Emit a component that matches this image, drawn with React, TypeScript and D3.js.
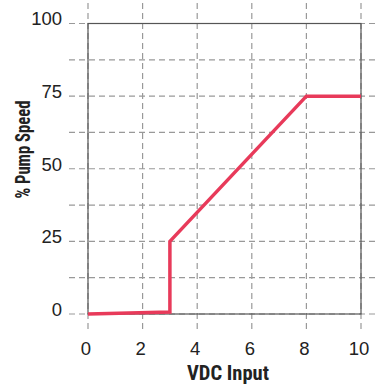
import React from "react";
import * as d3 from "d3";

const voltage = [0, 3, 3, 8, 10];
const pumpSpeed = [0, 0.7, 25, 75, 75];
const xTicks = [0, 2, 4, 6, 8, 10];
const yTicks = [0, 25, 50, 75, 100];
const yGrid = [0, 12.5, 25, 37.5, 50, 62.5, 75, 87.5, 100];

const W = 375;
const H = 385;
const narrow = "'Liberation Sans Narrow', 'Roboto Condensed', 'DejaVu Sans Condensed', 'Arial Narrow', sans-serif";
const regular = "'Liberation Sans', Arial, sans-serif";

export default function App() {
  const x = d3.scaleLinear().domain([0, 10]).range([88, 361]);
  const y = d3.scaleLinear().domain([0, 100]).range([314, 23.5]);
  const pts = voltage.map((v, i) => [v, pumpSpeed[i]] as [number, number]);
  const line = d3
    .line<[number, number]>()
    .x((d) => x(d[0]))
    .y((d) => y(d[1]));

  return (
    <svg width={W} height={H} style={{ position: "absolute", left: 0, top: 0, background: "#fff" }}>
      <g stroke="#999" strokeWidth={1.2} strokeDasharray="6,4" fill="none">
        {xTicks.map((t) => (
          <line key={"gx" + t} x1={x(t)} x2={x(t)} y1={3} y2={332} />
        ))}
        {yGrid.map((t) => (
          <line key={"gy" + t} x1={69} x2={375} y1={y(t)} y2={y(t)} />
        ))}
      </g>
      <rect x={x(0)} y={y(100)} width={x(10) - x(0)} height={y(0) - y(100)} fill="none" stroke="#555" strokeWidth={1.2} />
      <path d={line(pts) || ""} fill="none" stroke="#e83a5a" strokeWidth={3.5} strokeLinejoin="miter" />
      <g fontFamily={regular} fontSize={18.5} fill="#222">
        {yTicks.map((t) => (
          <text key={"ly" + t} x={62} y={y(t) - 3} textAnchor="end" dominantBaseline="middle">
            {t}
          </text>
        ))}
        {xTicks.map((t) => (
          <text key={"lx" + t} x={x(t) - 2} y={355} textAnchor="middle">
            {t}
          </text>
        ))}
      </g>
      <text
        x={228}
        y={380}
        textAnchor="middle"
        fontFamily={narrow}
        fontWeight="bold"
        fontSize={19.5}
        fill="#222"
        textLength={82}
        lengthAdjust="spacingAndGlyphs"
      >
        VDC Input
      </text>
      <text
        transform="translate(30,149.5) rotate(-90)"
        textAnchor="middle"
        fontFamily={narrow}
        fontWeight="bold"
        fontSize={19.5}
        fill="#222"
        textLength={98}
        lengthAdjust="spacingAndGlyphs"
      >
        % Pump Speed
      </text>
    </svg>
  );
}
